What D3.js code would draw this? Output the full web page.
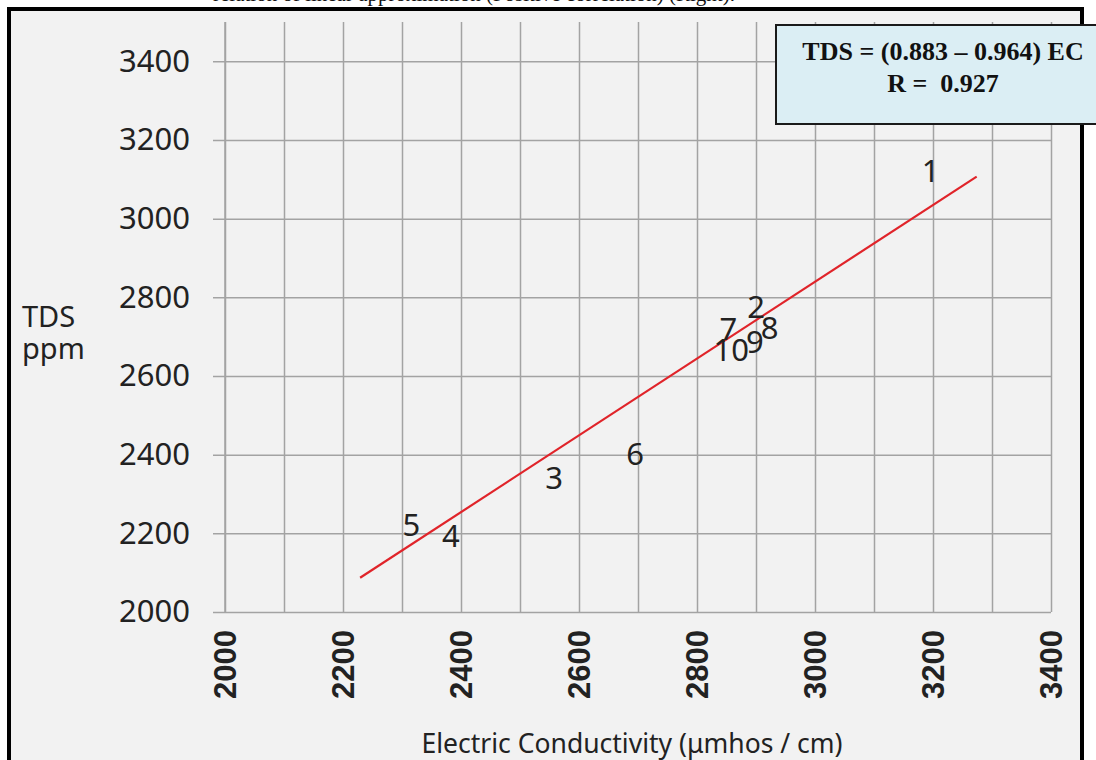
<!DOCTYPE html>
<html>
<head>
<meta charset="utf-8">
<script src="https://cdn.jsdelivr.net/npm/d3@7/dist/d3.min.js"></script>
<style>
  html, body { margin: 0; padding: 0; background: #ffffff; }
  svg { display: block; }
</style>
</head>
<body>
<svg id="chart" width="1096" height="760"></svg>
<script>
// ---- data ----
const sampleIds = ["1", "2", "3", "4", "5", "6", "7", "8", "9", "10"];
const ecValues  = [3196, 2900, 2558, 2383, 2316, 2695, 2853, 2923, 2898, 2858];
const tdsValues = [3122, 2776, 2341, 2193, 2222, 2403, 2721, 2722, 2686, 2667];
const fitEC  = [2229, 3274];
const fitTDS = [2087, 3107];
const xTicks = [2000, 2200, 2400, 2600, 2800, 3000, 3200, 3400];
const xGrid  = [2000, 2100, 2200, 2300, 2400, 2500, 2600, 2700, 2800, 2900, 3000, 3100, 3200, 3300, 3400];
const yTicks = [2000, 2200, 2400, 2600, 2800, 3000, 3200, 3400];
const xTitle = "Electric Conductivity (μmhos / cm)";
const yTitle = ["TDS", "ppm"];
const boxLines = ["TDS = (0.883 – 0.964) EC", "R =  0.927"];
const captionText = "relation of linear approximation (Positive correlation) (Right).";

const svg = d3.select("#chart");

// caption (mostly cut off above the frame)
svg.append("text")
  .attr("x", 213).attr("y", 1)
  .attr("font-family", "Liberation Serif, Times New Roman, serif")
  .attr("font-size", 21)
  .attr("fill", "#111")
  .text(captionText);

// frame
svg.append("rect")
  .attr("x", 9).attr("y", 9)
  .attr("width", 1073).attr("height", 820)
  .attr("fill", "#f2f2f2")
  .attr("stroke", "#000").attr("stroke-width", 4);

const x = d3.scaleLinear().domain([2000, 3400]).range([225, 1051]);
const y = d3.scaleLinear().domain([2000, 3500]).range([612, 22]);

const gridColor = "#a3a3a3";

// vertical grid lines (via axis)
const gx = svg.append("g")
  .attr("transform", `translate(0,${y(2000)})`)
  .call(d3.axisBottom(x).tickValues(xGrid).tickSize(-(y(2000) - y(3500))).tickFormat(""));
gx.select(".domain").remove();
gx.selectAll(".tick line").attr("stroke", gridColor).attr("stroke-width", 1.5);

// horizontal grid lines + y ticks (via axis)
const gy = svg.append("g")
  .attr("transform", `translate(${x(2000)},0)`)
  .call(d3.axisLeft(y).tickValues(yTicks).tickSizeInner(-(x(3400) - x(2000))).tickSizeOuter(0).tickFormat(""));
gy.select(".domain").remove();
gy.selectAll(".tick line").attr("stroke", gridColor).attr("stroke-width", 1.5)
  .attr("x1", -12);

// y axis line
svg.append("line")
  .attr("x1", x(2000)).attr("x2", x(2000))
  .attr("y1", y(3500)).attr("y2", y(2000))
  .attr("stroke", gridColor).attr("stroke-width", 1.5);

// y tick labels
const yl = svg.append("g")
  .attr("transform", `translate(${x(2000)},0)`)
  .call(d3.axisLeft(y).tickValues(yTicks).tickSize(0).tickPadding(35).tickFormat(d3.format("d")));
yl.select(".domain").remove();
yl.selectAll("text")
  .attr("font-family", "Noto Sans, Open Sans, sans-serif")
  .attr("font-size", 31)
  .attr("fill", "#222");

// x tick labels (rotated)
const xl = svg.append("g");
xl.selectAll("text").data(xTicks).join("text")
  .attr("transform", d => `translate(${x(d)},630) rotate(-90)`)
  .attr("text-anchor", "end")
  .attr("dy", "0.36em")
  .attr("font-family", "Liberation Sans, Arial, sans-serif")
  .attr("font-weight", "bold")
  .attr("font-size", 31)
  .attr("fill", "#222")
  .text(d => d3.format("d")(d));

// axis titles
svg.append("text")
  .attr("x", 632).attr("y", 753)
  .attr("text-anchor", "middle")
  .attr("font-family", "Noto Sans, Open Sans, sans-serif")
  .attr("font-size", 26.5)
  .attr("fill", "#222")
  .text(xTitle);

svg.append("g").selectAll("text").data(yTitle).join("text")
  .attr("x", 22)
  .attr("y", (d, i) => 327 + i * 32)
  .attr("font-family", "Noto Sans, Open Sans, sans-serif")
  .attr("font-size", 29)
  .attr("fill", "#222")
  .text(d => d);

// fit line
svg.append("path")
  .datum(fitEC.map((e, i) => [e, fitTDS[i]]))
  .attr("d", d3.line().x(d => x(d[0])).y(d => y(d[1])))
  .attr("fill", "none")
  .attr("stroke", "#e0242a")
  .attr("stroke-width", 2.2);

// point labels
svg.append("g").selectAll("text").data(sampleIds).join("text")
  .attr("x", (d, i) => x(ecValues[i]))
  .attr("y", (d, i) => y(tdsValues[i]))
  .attr("dy", "0.36em")
  .attr("text-anchor", "middle")
  .attr("font-family", "Noto Sans, Open Sans, sans-serif")
  .attr("font-size", 31)
  .attr("fill", "#222")
  .text(d => d);

// equation box
svg.append("rect")
  .attr("x", 776).attr("y", 25)
  .attr("width", 340).attr("height", 99)
  .attr("fill", "#dbeef4")
  .attr("stroke", "#1a1a1a").attr("stroke-width", 2);

svg.append("g").selectAll("text").data(boxLines).join("text")
  .attr("x", 943)
  .attr("y", (d, i) => 60 + i * 32)
  .attr("text-anchor", "middle")
  .attr("font-family", "Liberation Serif, Times New Roman, serif")
  .attr("font-weight", "bold")
  .attr("font-size", 26)
  .attr("fill", "#111")
  .style("white-space", "pre")
  .text(d => d);
</script>
</body>
</html>
